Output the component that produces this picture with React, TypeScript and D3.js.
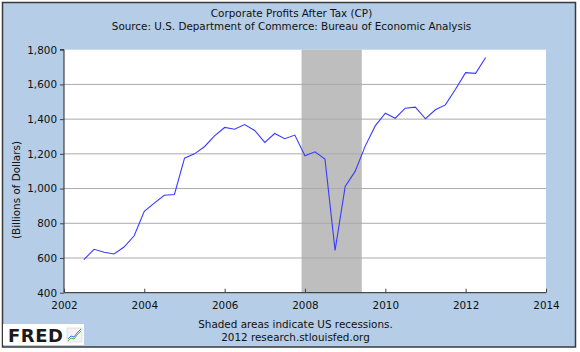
import * as d3 from 'd3';
import React from 'react';
import { useEffect, useRef } from 'react';

// quarterly, 2002Q3 .. 2012Q3 (billions of dollars)
const quarters: string[] = [
    '2002-07-01', '2002-10-01',
    '2003-01-01', '2003-04-01', '2003-07-01', '2003-10-01',
    '2004-01-01', '2004-04-01', '2004-07-01', '2004-10-01',
    '2005-01-01', '2005-04-01', '2005-07-01', '2005-10-01',
    '2006-01-01', '2006-04-01', '2006-07-01', '2006-10-01',
    '2007-01-01', '2007-04-01', '2007-07-01', '2007-10-01',
    '2008-01-01', '2008-04-01', '2008-07-01', '2008-10-01',
    '2009-01-01', '2009-04-01', '2009-07-01', '2009-10-01',
    '2010-01-01', '2010-04-01', '2010-07-01', '2010-10-01',
    '2011-01-01', '2011-04-01', '2011-07-01', '2011-10-01',
    '2012-01-01', '2012-04-01', '2012-07-01',
];
const profits: number[] = [
    590, 650,
    633, 623, 663, 728,
    869, 916, 961, 966,
    1175, 1200, 1241, 1304,
    1352, 1342, 1369, 1335,
    1266, 1317, 1287, 1308,
    1189, 1212, 1170, 644,
    1012, 1099, 1243, 1361,
    1434, 1405, 1463, 1469,
    1402, 1454, 1482, 1572,
    1668, 1664, 1755,
];
const recessions: [string, string][] = [['2007-12-01', '2009-06-01']];
const yTicks: number[] = [400, 600, 800, 1000, 1200, 1400, 1600, 1800];
const xTickYears: number[] = [2002, 2004, 2006, 2008, 2010, 2012, 2014];

const FONT = '"DejaVu Sans", Verdana, sans-serif';
const FS = 10.4;

const Chart = () => {
    const ref = useRef<any>();

    useEffect(() => {
        const parseTime = d3.timeParse('%Y-%m-%d');
        const data = quarters.map((q, i) => ({ date: parseTime(q) as Date, value: profits[i] }));

        const dims = { width: 580, height: 352, left: 64, right: 546, top: 49.7, bottom: 292.7 };

        const svg = d3.select<any, any>(ref.current)
            .attr('width', dims.width)
            .attr('height', dims.height);
        svg.selectAll('*').remove();

        // frame
        svg.append('rect').attr('width', dims.width).attr('height', dims.height).attr('fill', '#ffffff');
        svg.append('rect')
            .attr('x', 2.5).attr('y', 2.5)
            .attr('width', 573).attr('height', 344.5)
            .attr('fill', '#b5cde6')
            .attr('stroke', '#3a3a3a')
            .attr('stroke-width', 1.5);

        const xScale = d3.scaleTime()
            .domain([new Date(2002, 0, 1), new Date(2014, 0, 1)])
            .range([dims.left, dims.right]);
        const yScale = d3.scaleLinear()
            .domain([400, 1800])
            .range([dims.bottom, dims.top]);

        // plot background
        svg.append('rect')
            .attr('x', dims.left).attr('y', dims.top)
            .attr('width', dims.right - dims.left).attr('height', dims.bottom - dims.top)
            .attr('fill', '#ffffff');

        // recessions
        svg.append('g').selectAll('rect').data(recessions).join('rect')
            .attr('x', (d) => xScale(parseTime(d[0]) as Date))
            .attr('width', (d) => xScale(parseTime(d[1]) as Date) - xScale(parseTime(d[0]) as Date))
            .attr('y', dims.top)
            .attr('height', dims.bottom - dims.top)
            .attr('fill', '#bebebe');

        // grid
        svg.append('g').selectAll('line').data(yTicks.filter((t) => t > 400 && t < 1800)).join('line')
            .attr('x1', dims.left).attr('x2', dims.right)
            .attr('y1', (d) => yScale(d)).attr('y2', (d) => yScale(d))
            .attr('stroke', '#aaaaaa')
            .attr('stroke-width', 1);

        // y axis
        const yAxis = d3.axisLeft(yScale)
            .tickValues(yTicks)
            .tickSize(4)
            .tickPadding(3)
            .tickFormat((v: any) => d3.format(',')(v));
        const yG = svg.append('g').attr('transform', `translate(${dims.left},0)`).call(yAxis);
        yG.select('.domain').attr('stroke', '#222').attr('d', `M-4,${dims.top}H0V${dims.bottom}`);
        yG.selectAll('.tick line').attr('stroke', '#444');
        yG.selectAll('text').attr('font-family', FONT).attr('font-size', FS).attr('fill', '#111');

        // x axis (ticks point inward)
        const xAxis = d3.axisBottom(xScale)
            .tickValues(xTickYears.map((y) => new Date(y, 0, 1)))
            .tickSize(-4)
            .tickPadding(9)
            .tickFormat((d: any) => d3.timeFormat('%Y')(d));
        const xG = svg.append('g').attr('transform', `translate(0,${dims.bottom})`).call(xAxis);
        xG.select('.domain').attr('stroke', '#222').attr('d', `M${dims.left},0H${dims.right}`);
        xG.selectAll('.tick line').attr('stroke', '#444');
        xG.selectAll('text').attr('font-family', FONT).attr('font-size', FS).attr('fill', '#111');

        // series
        const line = d3.line<any>()
            .x((d) => xScale(d.date))
            .y((d) => yScale(d.value));
        svg.append('path')
            .datum(data)
            .attr('d', line)
            .attr('fill', 'none')
            .attr('stroke', '#3b3bff')
            .attr('stroke-width', 1.1);

        // titles
        const text = (x: number, y: number, s: string) => svg.append('text')
            .attr('x', x).attr('y', y)
            .attr('text-anchor', 'middle')
            .attr('font-family', FONT)
            .attr('font-size', FS)
            .attr('fill', '#111')
            .text(s);
        text(291.5, 16.5, 'Corporate Profits After Tax (CP)');
        text(291.5, 29.5, 'Source: U.S. Department of Commerce: Bureau of Economic Analysis');
        text(295.5, 328, 'Shaded areas indicate US recessions.');
        text(295.5, 341, '2012 research.stlouisfed.org');

        svg.append('text')
            .attr('transform', `translate(20,190) rotate(-90)`)
            .attr('text-anchor', 'middle')
            .attr('font-family', FONT)
            .attr('font-size', FS)
            .attr('fill', '#111')
            .text('(Billions of Dollars)');

        // FRED logo
        const logo = svg.append('g');
        logo.append('rect').attr('x', 3).attr('y', 324).attr('width', 81).attr('height', 21).attr('fill', '#ffffff');
        logo.append('text')
            .attr('x', 8).attr('y', 341.5)
            .attr('font-family', '"DejaVu Sans", Arial, sans-serif')
            .attr('font-weight', 900)
            .attr('font-size', 18)
            .attr('textLength', 55)
            .attr('fill', '#1a1a1a')
            .text('FRED');
        logo.append('rect').attr('x', 67).attr('y', 328).attr('width', 15).attr('height', 14)
            .attr('fill', '#f2f2f2').attr('stroke', '#cccccc').attr('stroke-width', 0.5);
        logo.append('polyline')
            .attr('points', '68,341 71,338 74,339 77,335 81,331')
            .attr('fill', 'none').attr('stroke', '#6aa84f').attr('stroke-width', 1);
        logo.append('polyline')
            .attr('points', '68,339 71,336 74,337 77,333 81,329')
            .attr('fill', 'none').attr('stroke', '#4a78c8').attr('stroke-width', 1);
    });

    return <svg ref={ref} style={{ display: 'block' }}></svg>;
};

export default function App() {
    return (
        <div style={{ position: 'fixed', left: 0, top: 0 }}>
            <Chart />
        </div>
    );
}
